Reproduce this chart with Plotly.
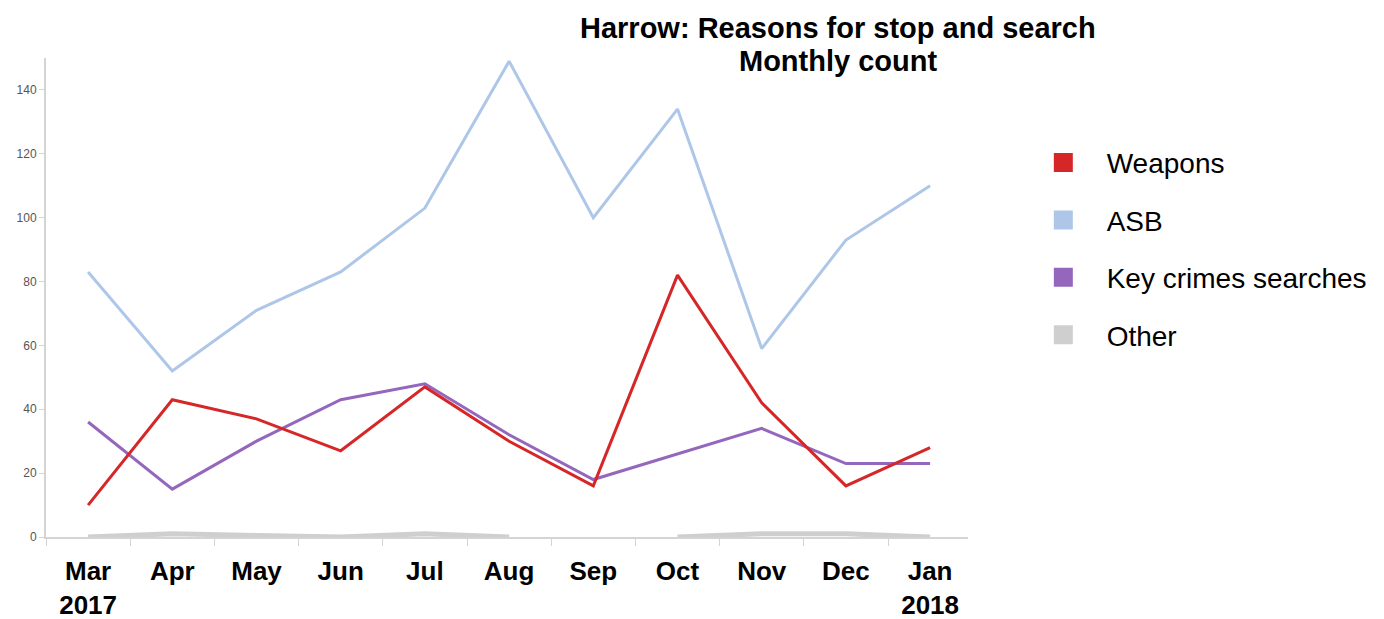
import plotly.graph_objects as go

months = ["Mar<br>2017", "Apr", "May", "Jun", "Jul", "Aug", "Sep", "Oct", "Nov", "Dec", "Jan<br>2018"]
weapons = [10, 43, 37, 27, 47, 30, 16, 82, 42, 16, 28]
asb = [83, 52, 71, 83, 103, 149, 100, 134, 59, 93, 110]
key_crimes = [36, 15, 30, 43, 48, 32, 18, None, 34, 23, 23]
other = [0, 1, 0.5, 0, 1, 0, None, 0, 1, 1, 0]
y_ticks = [0, 20, 40, 60, 80, 100, 120, 140]
title_lines = ["Harrow: Reasons for stop and search", "Monthly count"]

series = [
    ("Weapons", weapons, "#d62728", 3),
    ("ASB", asb, "#aec7e8", 3),
    ("Key crimes searches", key_crimes, "#9467bd", 3),
    ("Other", other, "#cfcfcf", 5),
]

FONT = "Arial, Liberation Sans, sans-serif"
fig = go.Figure()

# draw lines (Other first so it sits beneath)
for name, vals, color, w in reversed(series):
    fig.add_trace(go.Scatter(
        x=months, y=vals, mode="lines", name=name,
        line=dict(color=color, width=w),
        connectgaps=(name == "Key crimes searches"),
        showlegend=False, hoverinfo="x+y+name",
    ))

# legend entries as squares
for i, (name, vals, color, w) in enumerate(series):
    fig.add_trace(go.Scatter(
        x=[None], y=[None], mode="markers", name="\u00a0\u00a0\u00a0" + name,
        marker=dict(symbol="square", size=16, color=color,
                    line=dict(color=color, width=3)),
        legendgroup=name, showlegend=True,
    ))

# two-line chart title
for txt, ypos in zip(title_lines, [1.0626, 0.9937]):
    fig.add_annotation(
        text="<b>" + txt + "</b>", xref="paper", yref="paper",
        x=0.859, y=ypos, xanchor="center", yanchor="middle",
        showarrow=False, font=dict(size=29, family=FONT, color="#000"),
    )

fig.update_layout(
    width=1376, height=611,
    margin=dict(l=38, r=416, t=50, b=82),
    paper_bgcolor="white", plot_bgcolor="white",
    font=dict(family=FONT, color="#000"),
    legend=dict(
        x=1.0817, xanchor="left", y=0.8333, yanchor="top",
        font=dict(size=28, family=FONT, color="#000"),
        tracegroupgap=18, bgcolor="rgba(0,0,0,0)",
    ),
    showlegend=True,
)

fig.update_xaxes(
    type="category", categoryorder="array", categoryarray=months,
    showgrid=False, zeroline=False, automargin=False,
    showline=True, linecolor="#d4d4d4", linewidth=2,
    ticks="outside", tickson="boundaries", ticklen=7, tickcolor="#d4d4d4", tickwidth=1,
    tickfont=dict(size=26, family=FONT, color="#000", weight="bold"),
    ticklabelstandoff=10,
    range=[-0.5, 10.45],
)

fig.update_yaxes(
    range=[0, 150], tickvals=y_ticks,
    showgrid=False, zeroline=False, automargin=False,
    showline=True, linecolor="#d4d4d4", linewidth=2,
    ticks="outside", ticklen=5, tickcolor="#d4d4d4",
    tickfont=dict(size=12, family=FONT, color="#555"),
)

fig.write_html("out.html")
